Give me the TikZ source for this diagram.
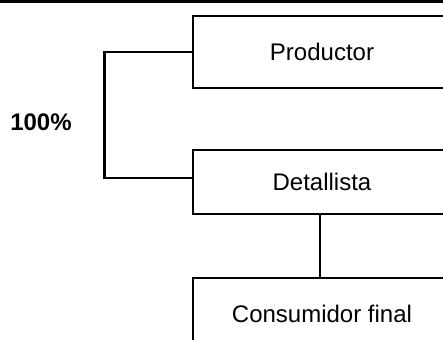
\documentclass[tikz,border=0pt]{standalone}
\usepackage{fontspec}
\setmainfont{Liberation Sans}
\begin{document}
\begin{tikzpicture}[x=0.5pt, y=-0.5pt, line width=1.4pt]
  \tikzstyle{caja}=[draw, rectangle, minimum width=129pt, inner sep=0, font=\fontsize{12}{14}\selectfont];
  \tikzstyle{enlace}=[-];

  \useasboundingbox (0,0) rectangle (443,339);
  \clip (0,0) rectangle (443,339);
  \draw[line width=1.2pt] (0,1.5) -- (443,1.5);

  \node[caja, minimum height=36pt] (prod) at (322,52) {Productor};
  \node[caja, minimum height=32pt] (det) at (322,182) {Detallista};
  \node[caja, minimum height=36pt] (cons) at (322,314) {Consumidor final};
  \node[font=\bfseries\fontsize{12}{14}\selectfont] (pct) at (41,122) {100\%};

  \draw[enlace] (prod.west) -- ++(-87,0) |- ([yshift=2pt]det.west);
  \draw[enlace] (det.south -| 320,0) -- (cons.north -| 320,0);
\end{tikzpicture}
\end{document}
